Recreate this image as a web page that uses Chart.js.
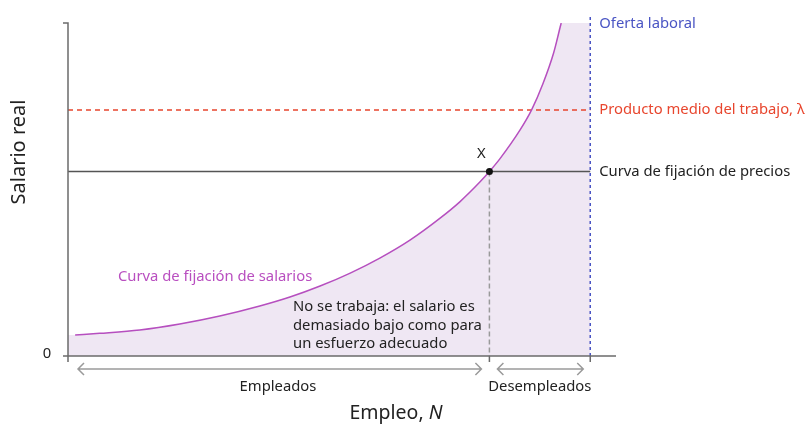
<!DOCTYPE html>
<html>
<head>
<meta charset="utf-8">
<script src="https://cdn.jsdelivr.net/npm/chart.js@4/dist/chart.umd.min.js"></script>
<style>
  html, body { margin: 0; padding: 0; background: #fff; }
  #wrap { width: 810px; height: 441px; }
</style>
</head>
<body>
<div id="wrap"><canvas id="chart"></canvas></div>
<script>
// values (axes run 0..100 in both directions)
const wageX = [1.3, 5.8, 13.1, 20.4, 27.7, 35.0, 40.5, 46.0, 51.5, 56.9, 62.4, 67.9, 71.5, 75.2, 76.9, 78.8, 82.5, 84.6, 86.7, 88.6, 90.0];
const wageY = [6.3, 6.8, 7.8, 9.6, 12.0, 15.0, 17.7, 21.0, 24.9, 29.4, 34.8, 41.4, 46.3, 52.3, 55.4, 59.2, 67.9, 73.9, 81.9, 90.9, 100];
const priceLevel = 55.4;      // curva de fijación de precios
const avgProduct = 73.9;      // producto medio del trabajo
const laborSupply = 95.3;     // oferta laboral
const eqX = 76.9;             // punto X
const noteLines = ['No se trabaja: el salario es', 'demasiado bajo como para', 'un esfuerzo adecuado'];

const FONT = '"Noto Sans", "Open Sans", sans-serif';
const GREY = '#6b6b6b';

function pts(xs, ys) {
  return xs.map((x, i) => ({ x: x, y: ys[i] }));
}

// area shaded under the wage curve, up to the labour supply line
let shade = [{ x: 0, y: wageY[0] }].concat(pts(wageX, wageY));
shade.push({ x: laborSupply, y: 100 });

function arrow(ctx, x1, x2, y) {
  ctx.beginPath();
  ctx.moveTo(x1, y); ctx.lineTo(x2, y);
  ctx.moveTo(x1 + 6, y - 6); ctx.lineTo(x1, y); ctx.lineTo(x1 + 6, y + 6);
  ctx.moveTo(x2 - 6, y - 6); ctx.lineTo(x2, y); ctx.lineTo(x2 - 6, y + 6);
  ctx.stroke();
}

const extras = {
  id: 'extras',
  afterDatasetsDraw(chart) {
    const ctx = chart.ctx;
    const xs = chart.scales.x, ys = chart.scales.y;
    const x0 = xs.getPixelForValue(0), x1 = xs.getPixelForValue(100);
    const y0 = ys.getPixelForValue(0), y1 = ys.getPixelForValue(100);
    const xEq = xs.getPixelForValue(eqX), xLs = xs.getPixelForValue(laborSupply);
    ctx.save();

    // axes
    ctx.strokeStyle = GREY;
    ctx.lineWidth = 1.5;
    ctx.beginPath();
    ctx.moveTo(x0 - 5, y1); ctx.lineTo(x0, y1); ctx.lineTo(x0, y0 + 6);
    ctx.moveTo(x0 - 5, y0); ctx.lineTo(x1, y0);
    ctx.moveTo(xEq, y0); ctx.lineTo(xEq, y0 + 6);
    ctx.moveTo(xLs, y0); ctx.lineTo(xLs, y0 + 6);
    ctx.stroke();

    // arrows under the axis
    ctx.strokeStyle = '#9a9a9a';
    ctx.lineWidth = 1.5;
    arrow(ctx, x0 + 10, xEq - 8, y0 + 13);
    arrow(ctx, xEq + 8, xLs - 7, y0 + 13);

    ctx.textBaseline = 'middle';
    ctx.font = '14.8px ' + FONT;

    ctx.fillStyle = '#222';
    ctx.textAlign = 'center';
    ctx.fillText('0', x0 - 21, y0 - 2);
    ctx.fillText('Empleados', 278, y0 + 31);
    ctx.fillText('Desempleados', (xEq + xLs) / 2, y0 + 31);
    ctx.fillText('X', xEq - 8, ys.getPixelForValue(priceLevel) - 18);

    ctx.textAlign = 'left';
    ctx.fillStyle = '#4a55c4';
    ctx.fillText('Oferta laboral', xLs + 9, y1 + 1);
    ctx.fillStyle = '#e8462e';
    ctx.fillText('Producto medio del trabajo, λ', xLs + 9, ys.getPixelForValue(avgProduct));
    ctx.fillStyle = '#222';
    ctx.fillText('Curva de fijación de precios', xLs + 9, ys.getPixelForValue(priceLevel));
    ctx.fillStyle = '#b94fc0';
    ctx.fillText('Curva de fijación de salarios', 118, 277);
    ctx.fillStyle = '#222';
    noteLines.forEach((t, i) => ctx.fillText(t, 293, 307 + i * 18.5));

    // axis titles
    const a = 'Empleo, ';
    ctx.font = 'italic 19.5px ' + FONT;
    const wN = ctx.measureText('N').width;
    ctx.font = '19.5px ' + FONT;
    const wA = ctx.measureText(a).width;
    const sx = 396 - (wA + wN) / 2;
    ctx.fillText(a, sx, 413);
    ctx.font = 'italic 19.5px ' + FONT;
    ctx.fillText('N', sx + wA, 413);

    ctx.font = '20px ' + FONT;
    ctx.translate(19, 152);
    ctx.rotate(-Math.PI / 2);
    ctx.textAlign = 'center';
    ctx.fillText('Salario real', 0, 0);
    ctx.restore();
  }
};

new Chart(document.getElementById('chart'), {
  type: 'scatter',
  data: {
    datasets: [
      {
        data: [{ x: eqX, y: priceLevel }],
        pointRadius: 3.5, pointBackgroundColor: '#111', pointBorderWidth: 0,
        order: 0
      },
      {
        data: pts(wageX, wageY),
        showLine: true, cubicInterpolationMode: 'monotone',
        borderColor: '#b64fbf', borderWidth: 1.5, pointRadius: 0,
        order: 1
      },
      {
        data: [{ x: eqX, y: priceLevel }, { x: eqX, y: 0 }],
        showLine: true, borderColor: '#9a9a9a', borderWidth: 1.5, borderDash: [5, 3],
        pointRadius: 0, order: 2
      },
      {
        data: [{ x: 0, y: priceLevel }, { x: laborSupply, y: priceLevel }],
        showLine: true, borderColor: '#555', borderWidth: 1.5, pointRadius: 0, order: 3
      },
      {
        data: [{ x: 0, y: avgProduct }, { x: laborSupply, y: avgProduct }],
        showLine: true, borderColor: '#e8462e', borderWidth: 1.5, borderDash: [5, 4],
        pointRadius: 0, order: 4
      },
      {
        data: [{ x: laborSupply, y: 0 }, { x: laborSupply, y: 102.7 }],
        showLine: true, borderColor: '#4a55c4', borderWidth: 1.5, borderDash: [3, 3],
        pointRadius: 0, clip: false, order: 5
      },
      {
        data: shade,
        showLine: true, cubicInterpolationMode: 'monotone',
        borderWidth: 0, borderColor: 'rgba(0,0,0,0)', pointRadius: 0,
        fill: 'origin', backgroundColor: '#efe7f3', order: 10
      }
    ]
  },
  options: {
    responsive: true,
    maintainAspectRatio: false,
    animation: false,
    layout: { padding: { left: 68, right: 194, top: 23, bottom: 85 } },
    plugins: { legend: { display: false }, tooltip: { enabled: false } },
    scales: {
      x: { type: 'linear', min: 0, max: 100, display: false },
      y: { type: 'linear', min: 0, max: 100, display: false }
    }
  },
  plugins: [extras]
});
</script>
</body>
</html>
